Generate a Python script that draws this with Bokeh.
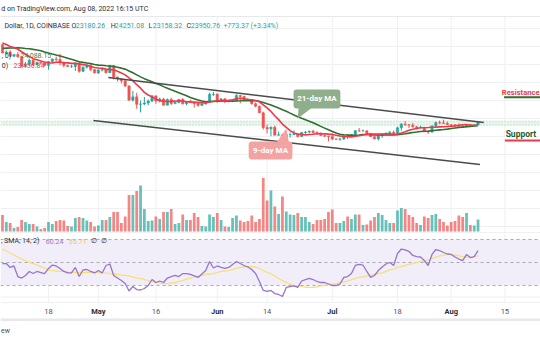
import pandas as pd
from bokeh.plotting import figure
from bokeh.layouts import column
from bokeh.models import Range1d, ColumnDataSource
from bokeh.core.properties import value
from bokeh.embed import file_html
from bokeh.resources import INLINE

# ---------------- data (day index: 0 = Apr 18 2022, first bar = Apr 6, last = Aug 8) ----------------
first_day = -12
prior_closes = [40900, 41800, 42200, 41260, 41000, 42370, 42900, 43960, 44340, 44530,
                46820, 47130, 47450, 47070, 45520, 46280, 45830, 46410, 46580, 45500]
closes = [43200, 43450, 42280, 42770, 42160, 39530, 40080, 41150, 39940, 40550, 40400, 39700,
          40800, 41500, 41370, 40480, 39710, 39450, 39470, 40430, 38110, 39240, 39740, 38600, 37650,
          38470, 38530, 37720, 39700, 36550, 36000, 35470, 34040, 30080, 31010, 28940, 29030, 29280,
          29860, 31300, 29860, 30420, 28690, 30300, 29180, 29430, 30290, 29100, 29650, 29540, 29200,
          28630, 29030, 29470, 31720, 31790, 29800, 30450, 29700, 29860, 29900, 31370, 31130, 30200,
          30110, 29090, 28420, 26570, 22490, 22130, 22580, 20380, 20470, 19000, 20550, 20560, 20710,
          19970, 21090, 21230, 21490, 21030, 20730, 20250, 20100, 19940, 19290, 19240, 19310, 20230,
          20190, 20550, 21630, 21590, 21590, 20850, 19960, 19320, 20230, 20580, 20830, 21190, 20780,
          22430, 23400, 23230, 23160, 22680, 22450, 22580, 21310, 21250, 22950, 23850, 23780, 23640,
          23290, 23270, 22980, 22820, 22630, 23310, 22960, 23180, 23950]
highs = [45700, 43900, 43970, 42800, 43420, 42420, 40700, 41560, 41480, 40850, 40700, 40600,
         40970, 41740, 42200, 42980, 40800, 39990, 39930, 40600, 40800, 39470, 40370, 39940, 38780,
         38660, 39170, 38650, 39900, 39820, 36650, 36140, 35500, 34240, 32650, 32150, 30000, 31000,
         30300, 31400, 31300, 30770, 30690, 30530, 30760, 29600, 30440, 30650, 29800, 30200, 29850,
         29380, 29200, 29500, 32180, 32380, 31950, 30660, 30670, 29950, 30180, 31760, 31550, 31320,
         30700, 30340, 29440, 28560, 26900, 23320, 22760, 22980, 21360, 20780, 20790, 21100, 21700,
         20860, 21190, 21530, 21590, 21860, 21500, 21180, 20400, 20170, 20860, 19420, 19640, 20260,
         20700, 20650, 21800, 22380, 21930, 21600, 20870, 20060, 20320, 20860, 21180, 21560, 21650,
         22720, 23750, 24280, 23420, 23740, 22990, 23000, 22650, 21350, 23080, 24200, 24450, 24660,
         24170, 23480, 23440, 23640, 23200, 23440, 23340, 23370, 24251]
lows = [43100, 42750, 42130, 42130, 41900, 39200, 39250, 39570, 39560, 39770, 40000, 39560,
        38560, 40590, 40840, 39760, 39200, 39300, 39040, 38200, 37710, 37880, 38880, 38190, 37590,
        37390, 38050, 37500, 37670, 35850, 35280, 34770, 33700, 30030, 29730, 27700, 26700, 28750,
        28630, 29500, 29100, 29470, 28660, 28700, 28750, 28950, 29240, 28880, 28680, 29330, 28020,
        28260, 28550, 28870, 29300, 31230, 29340, 29600, 29270, 29480, 29540, 29880, 29230, 29850,
        29980, 28860, 28110, 26560, 21940, 20850, 20080, 20250, 20250, 17600, 17950, 19660, 20370,
        19770, 19900, 20720, 20900, 20980, 20510, 20210, 19860, 18640, 18980, 18980, 18780, 19060,
        19320, 19800, 20250, 21200, 21330, 20660, 19890, 19240, 18910, 19620, 20390, 20480, 20760,
        20770, 21600, 23000, 22360, 22470, 21940, 22270, 21270, 20740, 21050, 22600, 23420, 23510,
        23230, 22850, 22670, 22700, 22420, 22600, 22930, 22860, 23158]
volume_k = [33, 19, 17, 7, 9, 23, 19, 15, 15, 10, 5, 7,
            19, 15, 21, 23, 22, 11, 10, 27, 29, 27, 22, 19, 10,
            12, 23, 23, 29, 39, 39, 17, 30, 73, 73, 81, 92, 45,
            21, 22, 30, 25, 39, 39, 45, 15, 17, 34, 23, 23, 37,
            29, 11, 10, 34, 29, 37, 23, 10, 9, 27, 32, 22, 19,
            21, 32, 19, 25, 107, 62, 82, 50, 35, 70, 40, 34, 33,
            37, 29, 29, 19, 15, 23, 23, 25, 39, 44, 17, 17, 21,
            30, 25, 34, 34, 13, 14, 22, 29, 37, 33, 23, 17, 17,
            42, 47, 45, 33, 29, 17, 13, 30, 27, 33, 35, 25, 19,
            12, 19, 21, 32, 29, 37, 13, 12, 24]
rsi = [49.1, 49.1, 45.7, 47.0, 37.8, 36.5, 38.7, 42.2, 40.4, 42.2, 41.3, 40.4,
       44.8, 47.8, 47.0, 44.8, 42.2, 40.9, 40.9, 45.7, 37.8, 43.5, 43.9, 42.2, 40.9,
       43.0, 40.9, 47.4, 48.7, 38.7, 36.5, 34.3, 31.7, 25.2, 29.1, 26.5, 26.1, 27.4,
       30.0, 35.2, 32.6, 33.9, 32.6, 36.5, 37.8, 38.7, 37.8, 40.4, 40.4, 39.6, 38.3,
       37.0, 40.0, 43.0, 50.9, 45.2, 47.0, 45.7, 44.8, 45.7, 48.3, 50.9, 49.1, 47.4,
       46.1, 43.9, 40.4, 33.5, 25.7, 24.8, 25.7, 23.0, 22.2, 20.4, 28.3, 29.1, 29.6,
       28.3, 33.9, 35.2, 36.1, 35.2, 33.5, 32.6, 32.6, 31.3, 30.0, 30.0, 31.3, 37.0,
       37.8, 40.4, 47.4, 48.3, 47.8, 42.2, 37.0, 38.7, 43.0, 46.1, 48.7, 50.0, 47.4,
       57.8, 61.7, 60.9, 59.6, 56.1, 55.2, 54.8, 51.7, 47.4, 57.0, 61.3, 60.4, 58.7,
       57.4, 57.0, 54.8, 53.0, 51.7, 57.0, 54.3, 55.2, 60.24]
rsi_sma = [61.7, 60.0, 58.3, 56.5, 54.8, 53.0, 51.7, 50.4, 49.1, 47.8, 46.5, 45.2,
           43.5, 43.0, 42.6, 42.2, 42.2, 41.7, 41.3, 41.3, 41.3, 41.3, 41.3, 41.3, 41.3,
           41.3, 40.9, 40.9, 40.4, 40.0, 39.6, 39.1, 38.7, 38.3, 37.4, 36.5, 36.1, 35.2,
           34.3, 33.5, 32.6, 32.2, 31.7, 31.7, 32.2, 32.6, 33.5, 34.3, 35.7, 36.5, 37.4,
           38.3, 38.7, 39.6, 40.0, 40.4, 41.3, 42.2, 42.6, 43.0, 43.9, 44.8, 45.7, 46.1,
           46.5, 46.5, 46.1, 44.8, 43.0, 41.3, 40.4, 38.3, 36.1, 34.3, 32.6, 30.9, 30.0,
           29.6, 29.1, 28.7, 28.3, 28.3, 28.7, 29.6, 30.0, 30.9, 31.3, 31.7, 32.6, 33.0,
           33.9, 35.2, 36.1, 37.0, 37.4, 38.3, 38.7, 39.6, 40.4, 40.9, 42.2, 43.5, 44.3,
           45.7, 46.5, 47.4, 48.3, 49.1, 50.0, 50.9, 51.3, 52.2, 53.5, 54.8, 55.7, 56.5,
           57.0, 57.0, 56.5, 55.7, 55.2, 54.8, 54.3, 55.2, 55.71]
tick_days = [0, 13, 28, 44, 57, 74, 91, 105, 119]
tick_labels = ["18", "May", "16", "Jun", "14", "Jul", "18", "Aug", "15"]
tick_bold = [False, True, False, True, False, True, False, True, False]
price_grid = [-5000, 0, 5000, 10000, 15000, 20000, 25000, 30000, 35000, 40000, 45000, 50000]
rsi_grid = [20, 40, 60]
rsi_bands = [70, 50, 30]
upper_trend = ([15.6, 113.5], [36400, 23890])
lower_trend = ([11.7, 112.5], [24440, 12220])
last_high, last_low = 24251.08, 23158.32
ohlc_labels = ["O", "H", "L", "C"]
ohlc_values = ["23180.26", "24251.08", "23158.32", "23950.76"]
change_text = "+773.37 (+3.34%)"
ma_legend_values = ["24,088.15", "23,456.84"]
rsi_legend_values = ["60.24", "55.71"]

# ---------------- derived ----------------
n = len(closes)
days = list(range(first_day, first_day + n))
all_closes = prior_closes + closes
opens = all_closes[len(prior_closes) - 1:-1]
s = pd.Series(all_closes, dtype=float)
ma9 = s.rolling(9).mean().tolist()[len(prior_closes):]
ma21 = s.rolling(21).mean().tolist()[len(prior_closes):]
up = [c >= o for o, c in zip(opens, closes)]
UP, DN = "#26a69a", "#ef5350"
ccol = [UP if u else DN for u in up]
src = ColumnDataSource(dict(
    day=days, o=opens, c=closes, h=highs, l=lows,
    top=[max(a, b) for a, b in zip(opens, closes)],
    bot=[min(a, b) for a, b in zip(opens, closes)],
    col=ccol, vol=volume_k, zero=[0] * n, ma9=ma9, ma21=ma21))

X0, X1 = -12.516, 128.29
FONT = value("Roboto")
GRID = "#eef0f4"
DARK = "#2a2e39"

# ---------------- main pane ----------------
pm = figure(width=540, height=233, x_range=Range1d(X0, X1), y_range=Range1d(-6944, 57778),
            output_backend="svg", toolbar_location=None, x_axis_location=None,
            y_axis_location=None, min_border=0, outline_line_color=None)
pm.grid.visible = False
pm.extra_y_ranges = {"vol": Range1d(-4, 462)}

PANE_TOP = 53333
pm.segment(x0=[X0] * len(price_grid), x1=[X1] * len(price_grid), y0=price_grid, y1=price_grid,
           line_color=GRID, line_width=1)
pm.segment(x0=tick_days, x1=tick_days, y0=[-6944] * len(tick_days), y1=[PANE_TOP] * len(tick_days),
           line_color=GRID, line_width=1)
pm.segment(x0=[X0], x1=[X1], y0=[PANE_TOP], y1=[PANE_TOP], line_color="#e6e8ee", line_width=1)
pm.segment(x0=[X0], x1=[X1], y0=[-6944], y1=[-6944], line_color="#e0e3eb", line_width=2)

# last bar high / low band
pm.quad(left=[X0], right=[X1], bottom=[last_low], top=[last_high], fill_color="#e3f3e8",
        fill_alpha=0.9, line_color=None)
pm.segment(x0=[X0, X0], x1=[X1, X1], y0=[last_high, last_low], y1=[last_high, last_low],
           line_color="#9fd3b4", line_width=1, line_dash="1 2")

# volume
pm.vbar(x="day", width=0.72, top="vol", bottom="zero", fill_color="col", line_color=None,
        fill_alpha=0.7, y_range_name="vol", source=src)

# candles
pm.segment(x0="day", x1="day", y0="h", y1="l", line_color="col", line_width=1, source=src)
pm.vbar(x="day", width=0.62, top="top", bottom="bot", fill_color="col", line_color="col",
        line_width=0.5, source=src)

# moving averages
pm.line(x="day", y="ma21", line_color="#2f6f2f", line_width=1.6, source=src)
pm.line(x="day", y="ma9", line_color="#f0384a", line_width=1.6, source=src)

# trend lines
pm.line(x=upper_trend[0], y=upper_trend[1], line_color="#4b4b4b", line_width=1.5)
pm.line(x=lower_trend[0], y=lower_trend[1], line_color="#4b4b4b", line_width=1.5)

# callouts
pm.patch(x=[65.2, 68.6, 65.0], y=[27950, 27950, 25000], fill_color="#8fae8c", line_color=None)
pm.quad(left=[63.9], right=[76.1], bottom=[27780], top=[33060], fill_color="#8fae8c",
        line_color=None, border_radius=3)
pm.text(x=[70.0], y=[30420], text=["21-day MA"], text_color="white", text_font=FONT,
        text_font_size="8px", text_font_style="bold", text_align="center", text_baseline="middle")
pm.patch(x=[59.5, 62.7, 62.0], y=[18330, 18330, 22200], fill_color="#f4a3a3", line_color=None)
pm.quad(left=[52.2], right=[63.6], bottom=[13610], top=[18610], fill_color="#f4a3a3",
        line_color=None, border_radius=3)
pm.text(x=[57.9], y=[16110], text=["9-day MA"], text_color="white", text_font=FONT,
        text_font_size="8px", text_font_style="bold", text_align="center", text_baseline="middle")

# resistance / support labels
pm.text(x=[118.2], y=[32300], text=["Resistance"], text_color="#f0384a", text_font=FONT,
        text_font_size="7.6px", text_font_style="bold", text_baseline="middle")
pm.segment(x0=[118.8], x1=[X1], y0=[30900], y1=[30900], line_color="#2f6f2f", line_width=2)
pm.text(x=[119.2], y=[20750], text=["Support"], text_color="#1f5a28", text_font=FONT,
        text_font_size="8.5px", text_font_style="bold", text_baseline="middle")
pm.segment(x0=[119.0], x1=[X1], y0=[18890], y1=[18890], line_color="#f0384a", line_width=2)

# header texts
pm.text(x=[-12.3], y=[55300], text=["d on TradingView.com, Aug 08, 2022 16:15 UTC"],
        text_color=DARK, text_font=FONT, text_font_size="7px", text_baseline="middle")
hdr_y = 50830
pm.text(x=[-11.5], y=[hdr_y], text=["Dollar, 1D, COINBASE"], text_color=DARK,
        text_font=FONT, text_font_size="7px", text_baseline="middle")
lab_x = [6.0, 16.2, 26.1, 36.0]
pm.text(x=lab_x, y=[hdr_y] * 4, text=ohlc_labels, text_color=DARK, text_font=FONT,
        text_font_size="7px", text_baseline="middle")
pm.text(x=[v + 1.1 for v in lab_x], y=[hdr_y] * 4, text=ohlc_values, text_color="#26a69a",
        text_font=FONT, text_font_size="7px", text_baseline="middle")
pm.text(x=[45.6], y=[hdr_y], text=[change_text], text_color="#26a69a", text_font=FONT,
        text_font_size="7px", text_baseline="middle")
pm.text(x=[-12.2, -7.3], y=[42500, 42500], text=[", 0)", ma_legend_values[0]],
        text_color=[DARK, "#4a7d4a"], text_font=FONT, text_font_size="7px",
        text_baseline="middle")
pm.text(x=[-12.2, -9.1], y=[39600, 39600], text=["0)", ma_legend_values[1]],
        text_color=[DARK, "#f0384a"], text_font=FONT, text_font_size="7px",
        text_baseline="middle")

# ---------------- RSI pane + time axis ----------------
pr = figure(width=540, height=107, x_range=pm.x_range, y_range=Range1d(-17.83, 75.22),
            output_backend="svg", toolbar_location=None, x_axis_location=None,
            y_axis_location=None, min_border=0, outline_line_color=None)
pr.grid.visible = False
R_BOT = 15.2
pr.quad(left=[X0], right=[X1], bottom=[30], top=[70], fill_color="#7e57c2", fill_alpha=0.1,
        line_color=None)
pr.segment(x0=[X0] * len(rsi_grid), x1=[X1] * len(rsi_grid), y0=rsi_grid, y1=rsi_grid,
           line_color=GRID, line_width=1)
pr.segment(x0=tick_days, x1=tick_days, y0=[R_BOT] * len(tick_days), y1=[75.22] * len(tick_days),
           line_color=GRID, line_width=1)
pr.segment(x0=[X0] * 3, x1=[X1] * 3, y0=rsi_bands, y1=rsi_bands, line_color="#a9acb5",
           line_width=1, line_dash="3 3")
pr.line(x=days, y=rsi_sma, line_color="#f7df7a", line_width=1.3)
pr.line(x=days, y=rsi, line_color="#9575cd", line_width=1.3)
pr.segment(x0=[X0], x1=[X1], y0=[R_BOT], y1=[R_BOT], line_color="#eef0f4", line_width=1)

# legend of RSI
pr.text(x=[-12.4], y=[68.6], text=[", SMA, 14, 2)"], text_color=DARK, text_font=FONT,
        text_font_size="7px", text_baseline="middle")
pr.text(x=[-0.7, 5.3], y=[68.6, 68.6], text=rsi_legend_values, text_color=["#9575cd", "#e8c94a"],
        text_font=FONT, text_font_size="7px", text_baseline="middle")
pr.text(x=[11.0, 13.6], y=[68.6, 68.6], text=["\u2205", "\u2205"], text_color=DARK,
        text_font=FONT, text_font_size="7px", text_baseline="middle")

# time axis labels
nb = [d for d, b in zip(tick_days, tick_bold) if not b]
nl = [t for t, b in zip(tick_labels, tick_bold) if not b]
bd = [d for d, b in zip(tick_days, tick_bold) if b]
bl = [t for t, b in zip(tick_labels, tick_bold) if b]
pr.text(x=nb, y=[7.4] * len(nb), text=nl, text_color="#50535e", text_font=FONT,
        text_font_size="7.5px", text_align="center", text_baseline="middle")
pr.text(x=bd, y=[7.4] * len(bd), text=bl, text_color=DARK, text_font=FONT,
        text_font_size="7.5px", text_font_style="bold", text_align="center", text_baseline="middle")

# bottom strip
pr.quad(left=[X0], right=[X1], bottom=[-0.9], top=[1.3], fill_color="#e6e8ee", line_color=None)
pr.text(x=[-12.4], y=[-9.6], text=["ew"], text_color="#50535e", text_font=FONT,
        text_font_size="7px", text_baseline="middle")

layout = column(pm, pr, spacing=0)
open("out.html", "w").write(file_html(layout, INLINE))
